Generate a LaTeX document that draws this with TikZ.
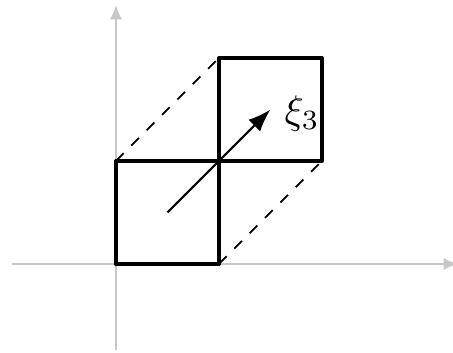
\documentclass[tikz,border=0pt]{standalone}
\usepackage{amsmath,amssymb}
\usepackage{tikz}
\usetikzlibrary{arrows.meta}

\begin{document}
\begin{tikzpicture}[
  axis/.style={draw=black!22, line width=0.6pt, -{Latex[length=1.4mm,width=1.2mm]}},
  cell/.style={draw, line width=1.1pt, line join=round},
  ghost/.style={draw, dashed, line width=0.5pt},
  move/.style={-{Latex[length=2.2mm,width=1.6mm]}, line width=0.6pt}
]
\useasboundingbox (-1.126,-0.864) rectangle (3.272,2.563);

% ---- axes ----
\coordinate (xl) at (-1.01,0);
\coordinate (xr) at (3.32,0);
\coordinate (yb) at (0,-0.835);
\coordinate (yt) at (0,2.514);
\draw[axis] (xl) -- (xr);
\draw[axis] (yb) -- (yt);

% ---- cells ----
\coordinate (a0) at (0,0);
\coordinate (a1) at (1,1);
\coordinate (b1) at (2,2);
\draw[ghost] (0,1) -- (1,2);
\draw[ghost] (1,0) -- (2,1);
\draw[cell] (a0) rectangle (a1);
\draw[cell] (a1) rectangle (b1);

% ---- translation ----
\coordinate (c0) at (0.5,0.5);
\coordinate (c1) at (1.5,1.5);
\draw[move] (c0) -- (c1);
\node[anchor=west, yshift=-0.4mm, scale=1.1] (xi) at (c1) {$\xi_3$};
\end{tikzpicture}
\end{document}
